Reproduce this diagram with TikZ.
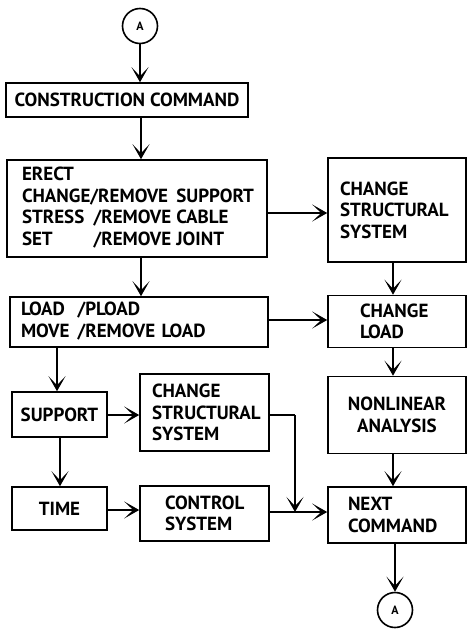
\documentclass[tikz,border=0pt]{standalone}
\usepackage{fontspec}
\setmainfont{PT Sans}
\usetikzlibrary{arrows.meta}

\tikzset{
  blk/.style={draw, line width=1.6pt, rectangle, inner ysep=0pt,
    font=\fontsize{19}{21.5}\selectfont\bfseries},
  lbox/.style={blk, align=left},
  cbox/.style={blk, align=center, inner xsep=0pt},
  % fixed-size box: text width, height, left margin
  geom/.style n args={3}{text width=#1pt, minimum height=#2pt, inner xsep=#3pt},
  conn/.style={circle, draw, line width=1.6pt, inner sep=0pt,
    minimum size=35pt, font=\fontsize{12}{12}\selectfont\bfseries},
  flow/.style={line width=1.6pt, -{Stealth[length=15pt,width=17pt,inset=9pt]}},
  seg/.style={line width=1.6pt}
}

\begin{document}
\begin{tikzpicture}[x=1pt,y=-1pt]
\useasboundingbox (0,0) rectangle (468,632);

% connectors A
\node[conn] (a1) at (140,26) {A};
\node[conn] (a2) at (395,610) {A};

% left column
\node[cbox, minimum width=242pt, minimum height=34pt] (cc) at (127,100) {CONSTRUCTION COMMAND};

\node[lbox, geom={230}{97}{15}] (erect) at (137,208.5) {%
\begin{tabular}{@{}l@{}l@{\hspace{5pt}}l@{}}
ERECT\\
CHANGE&/REMOVE&SUPPORT\\
STRESS&\,/REMOVE&CABLE\\
SET&\,/REMOVE&JOINT
\end{tabular}};

\node[lbox, geom={236}{50}{11}] (load) at (139,322) {%
\begin{tabular}{@{}l@{\hspace{8pt}}l@{}}
LOAD&/PLOAD\\
MOVE&/REMOVE LOAD
\end{tabular}};

\node[cbox, minimum width=95pt, minimum height=45pt] (support) at (59.5,414.5) {SUPPORT};
\node[cbox, minimum width=95pt, minimum height=43pt] (time) at (59.5,508.5) {TIME};

\node[lbox, geom={105}{77}{12}] (css2) at (204.5,412.5) {CHANGE\\STRUCTURAL\\SYSTEM};
\node[lbox, geom={79}{55}{25}] (ctrl) at (204.5,513.5) {CONTROL\\SYSTEM};

% right column
\node[lbox, geom={114}{104}{12}] (css1) at (397,210) {CHANGE\\STRUCTURAL\\SYSTEM};
\node[lbox, geom={74}{52}{32}] (chload) at (397,321.5) {CHANGE\\LOAD};
\node[cbox, minimum width=138pt, minimum height=77pt] (nonlin) at (397,415) {NONLINEAR\\ANALYSIS};
\node[lbox, geom={98}{56}{20}] (next) at (397,515) {NEXT\\COMMAND};

% flow
\draw[flow] (a1) -- (cc.north -| a1);
\draw[flow] (cc.south -| 141,0) -- (erect.north -| 141,0);
\draw[flow] (erect.east |- 0,213) -- (css1.west |- 0,213);
\draw[flow] (erect.south -| 141,0) -- (load.north -| 141,0);
\draw[flow] (css1.south -| 393,0) -- (chload.north -| 393,0);
\draw[flow] (load.east |- 0,320) -- (chload.west |- 0,320);
\draw[flow] (chload.south -| 393,0) -- (nonlin.north -| 393,0);
\draw[flow] (nonlin.south -| 393,0) -- (next.north -| 393,0);
\draw[flow] (next.south -| a2) -- (a2);

\draw[flow] (load.south -| 57,0) -- (support.north -| 57,0);
\draw[flow] (support.east |- 0,415) -- (css2.west |- 0,415);
\draw[flow] (support.south -| 60,0) -- (time.north -| 60,0);
\draw[flow] (time.east |- 0,510) -- (ctrl.west |- 0,510);
\draw[flow] (ctrl.east |- 0,512) -- (next.west |- 0,512);

\coordinate (bend) at (295,415);
\coordinate (join) at (295,512);
\draw[seg] (css2.east |- bend) -- (bend);
\draw[flow] (bend) -- (join);
\end{tikzpicture}
\end{document}
